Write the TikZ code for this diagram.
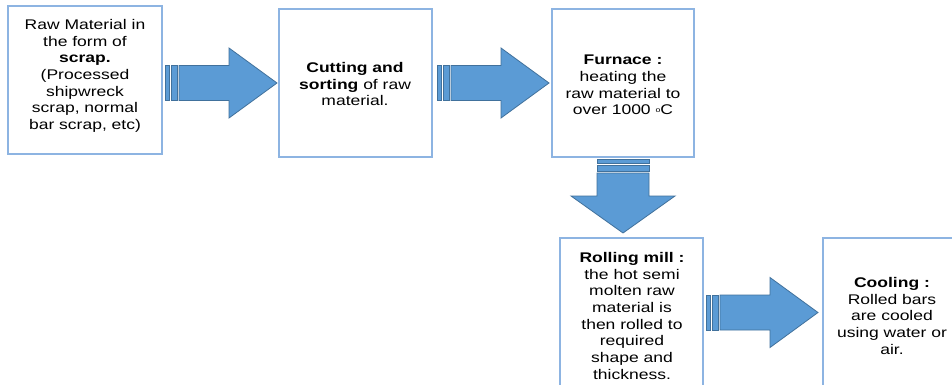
\documentclass[tikz,border=0pt]{standalone}
\usepackage{fontspec}
\setmainfont[FakeStretch=1.25]{Liberation Sans}
\begin{document}
\begin{tikzpicture}[x=1pt,y=-1pt,
  stepbox/.style={draw=boxblue,line width=1.4pt,fill=white,inner sep=0pt},
  steptext/.style={anchor=north,align=center,inner sep=0pt,font=\fontsize{14}{16.7}\selectfont},
  arrowpart/.style={fill=arrfill,draw=arrline,line width=0.8pt,line join=miter},
  pics/rblock/.style={code={
    \path[arrowpart] (0,-17.5) rectangle (4,17.5);
    \path[arrowpart] (6,-17.5) rectangle (12,17.5);
    \path[arrowpart] (14,-17.5) -- (64,-17.5) -- (64,-35) -- (112,0) -- (64,35) -- (64,17.5) -- (14,17.5) -- cycle;
  }},
  pics/dblock/.style={code={
    \path[arrowpart] (-26,0) rectangle (26,4);
    \path[arrowpart] (-26,6) rectangle (26,12);
    \path[arrowpart] (-26,14) -- (-26,37) -- (-52,37) -- (0,74) -- (52,37) -- (26,37) -- (26,14) -- cycle;
  }}]
\definecolor{boxblue}{HTML}{8DB4E2}
\definecolor{arrfill}{HTML}{5B9BD5}
\definecolor{arrline}{HTML}{41719C}
\useasboundingbox (0,0) rectangle (952,385);
\fill[white] (0,0) rectangle (952,385);
\begin{scope}
\clip (0,0) rectangle (952,385);
% boxes
\node[stepbox,minimum width=154pt,minimum height=148pt] (b1) at (85,80) {};
\node[stepbox,minimum width=153pt,minimum height=148pt] (b2) at (355.5,83) {};
\node[stepbox,minimum width=142pt,minimum height=148pt] (b3) at (623,83) {};
\node[stepbox,minimum width=143pt,minimum height=160pt] (b4) at (631.5,318) {};
\node[stepbox,minimum width=150pt,minimum height=160pt] (b5) at (898,318) {};
% arrows
\pic at (165,83) {rblock};
\pic at (437,83) {rblock};
\pic at (706,312.5) {rblock};
\pic at (623,159) {dblock};
\end{scope}
% texts
\node[steptext] (t1) at (85,19) {Raw Material in\\the form of\\\textbf{scrap.}\\(Processed\\shipwreck\\scrap, normal\\bar scrap, etc)};
\node[steptext] (t2) at (355,62) {\textbf{Cutting and}\\\textbf{sorting} of raw\\material.};
\node[steptext] (t3) at (623,55) {\textbf{Furnace :}\\heating the\\raw material to\\over 1000 {\fontsize{7}{8}\selectfont\raisebox{2pt}{o}}C};
\node[steptext] (t4) at (632,252) {\textbf{Rolling mill :}\\the hot semi\\molten raw\\material is\\then rolled to\\required\\shape and\\thickness.};
\node[steptext] (t5) at (892,277) {\textbf{Cooling :}\\Rolled bars\\are cooled\\using water or\\air.};
\end{tikzpicture}
\end{document}
